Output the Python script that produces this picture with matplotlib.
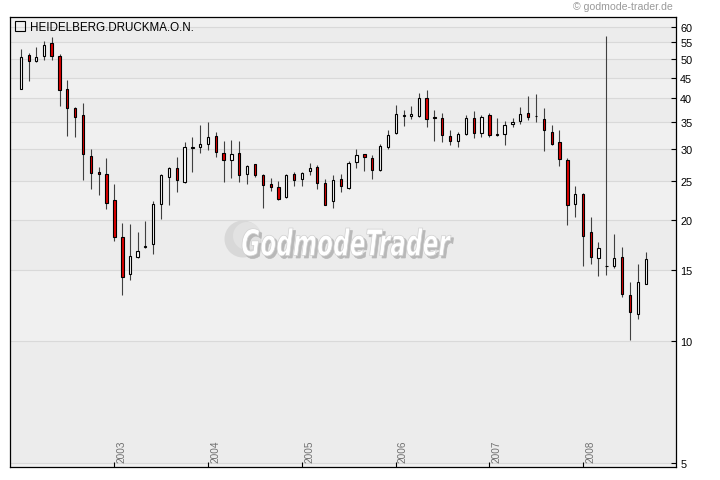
import datetime as dt
import matplotlib
matplotlib.use("Agg")
import matplotlib.pyplot as plt
import matplotlib.dates as mdates
from matplotlib.patches import Rectangle, PathPatch, Circle
from matplotlib.textpath import TextPath
from matplotlib.font_manager import FontProperties
from matplotlib.transforms import Affine2D, IdentityTransform, blended_transform_factory
from matplotlib.ticker import NullLocator, FixedLocator, FixedFormatter

plt.rcParams['font.family'] = ['Liberation Sans', 'DejaVu Sans']

# ---------------- data (monthly OHLC) ----------------
months = ["2002-01", "2002-02", "2002-03", "2002-04", "2002-05", "2002-06", "2002-07", "2002-08",
          "2002-09", "2002-10", "2002-11", "2002-12", "2003-01", "2003-02", "2003-03", "2003-04",
          "2003-05", "2003-06", "2003-07", "2003-08", "2003-09", "2003-10", "2003-11", "2003-12",
          "2004-01", "2004-02", "2004-03", "2004-04", "2004-05", "2004-06", "2004-07", "2004-08",
          "2004-09", "2004-10", "2004-11", "2004-12", "2005-01", "2005-02", "2005-03", "2005-04",
          "2005-05", "2005-06", "2005-07", "2005-08", "2005-09", "2005-10", "2005-11", "2005-12",
          "2006-01", "2006-02", "2006-03", "2006-04", "2006-05", "2006-06", "2006-07", "2006-08",
          "2006-09", "2006-10", "2006-11", "2006-12", "2007-01", "2007-02", "2007-03", "2007-04",
          "2007-05", "2007-06", "2007-07", "2007-08", "2007-09", "2007-10", "2007-11", "2007-12",
          "2008-01", "2008-02", "2008-03", "2008-04", "2008-05", "2008-06", "2008-07", "2008-08",
          "2008-09"]
opens = [42.2, 51.1, 49.5, 51.0, 54.7, 51.0, 42.2, 37.8, 36.4, 28.7, 26.2, 26.0,
         22.4, 18.1, 14.7, 16.2, 17.15, 17.4, 21.9, 25.5, 26.8, 24.8, 30.1, 30.3,
         30.8, 32.3, 29.3, 28.2, 29.3, 26.0, 27.5, 25.8, 24.6, 24.1, 22.8, 26.0,
         25.3, 26.4, 27.1, 24.7, 22.3, 25.3, 24.0, 27.8, 29.1, 28.5, 26.6, 30.3,
         32.9, 36.1, 36.2, 36.2, 40.1, 35.9, 35.8, 32.3, 31.4, 32.7, 35.8, 32.9,
         36.4, 32.6, 32.7, 34.6, 35.2, 36.8, 36.2, 35.6, 33.0, 31.1, 28.2, 21.9,
         23.2, 18.7, 16.1, 15.4, 15.4, 16.2, 13.0, 11.7, 13.9]
highs = [53.0, 51.7, 53.6, 55.4, 56.6, 51.4, 44.3, 38.0, 39.0, 30.0, 27.1, 28.4,
         24.5, 19.6, 19.5, 18.7, 19.9, 22.2, 26.0, 27.0, 28.6, 31.1, 32.0, 34.3,
         34.9, 33.0, 31.4, 31.6, 31.3, 27.4, 27.5, 25.9, 25.4, 25.0, 26.0, 26.3,
         26.3, 27.7, 27.4, 25.3, 25.8, 26.0, 28.0, 30.0, 29.1, 29.0, 30.9, 33.4,
         38.6, 37.5, 38.2, 41.3, 42.0, 37.5, 36.8, 33.4, 33.0, 36.4, 37.1, 36.4,
         36.8, 35.8, 35.2, 35.8, 38.1, 40.6, 41.1, 37.8, 34.3, 33.3, 28.5, 24.3,
         23.3, 20.3, 17.6, 57.2, 18.4, 17.1, 14.0, 15.5, 16.6]
lows = [42.2, 44.1, 49.2, 49.7, 49.7, 38.2, 32.2, 32.0, 25.1, 23.8, 23.1, 21.3,
        17.7, 13.0, 14.2, 16.1, 17.0, 16.5, 20.1, 21.7, 23.5, 24.7, 26.2, 29.2,
        29.7, 28.6, 24.8, 25.4, 24.8, 24.6, 25.6, 21.4, 23.6, 22.4, 22.7, 24.3,
        24.3, 25.8, 23.9, 21.7, 21.4, 23.5, 23.9, 26.8, 26.4, 25.3, 26.4, 30.0,
        32.7, 34.2, 35.6, 36.0, 34.0, 31.4, 31.2, 30.7, 30.3, 32.5, 31.9, 32.1,
        32.1, 32.3, 30.7, 34.0, 34.6, 35.4, 35.0, 29.6, 30.6, 27.2, 19.4, 20.3,
        15.4, 15.5, 14.5, 14.6, 15.2, 12.9, 10.05, 11.35, 13.9]
closes = [50.7, 49.5, 50.7, 54.3, 51.0, 41.9, 37.8, 36.0, 29.1, 26.1, 26.0, 22.0,
          18.1, 14.4, 16.3, 16.7, 17.25, 21.9, 25.8, 26.8, 25.1, 30.3, 30.3, 30.9,
          32.1, 29.4, 28.2, 29.1, 25.8, 27.2, 25.8, 24.4, 24.1, 22.5, 25.8, 25.1,
          26.1, 26.9, 24.7, 21.8, 25.1, 24.3, 27.7, 29.0, 28.6, 26.6, 30.5, 32.5,
          36.6, 36.3, 36.6, 40.1, 35.6, 35.7, 32.5, 31.4, 32.7, 35.8, 32.9, 36.0,
          32.5, 32.4, 34.4, 35.0, 36.6, 36.0, 36.1, 33.4, 30.8, 28.3, 21.7, 23.2,
          18.2, 16.2, 17.0, 15.35, 16.1, 13.1, 11.8, 14.0, 16.0]

yticks = [5, 10, 15, 20, 25, 30, 35, 40, 45, 50, 55, 60]
year_labels = ["2003", "2004", "2005", "2006", "2007", "2008"]
title = "HEIDELBERG.DRUCKMA.O.N."
copyright_txt = "\u00a9 godmode-trader.de"

# ---------------- figure ----------------
W, H = 720, 481
fig = plt.figure(figsize=(W / 100, H / 100), dpi=100)
fig.patch.set_facecolor("white")
ax_l, ax_r, ax_t, ax_b = 10, 676, 18, 467.7
ax = fig.add_axes([ax_l / W, 1 - ax_b / H, (ax_r - ax_l) / W, (ax_b - ax_t) / H])
ax.set_yscale("log")
ylo, yhi = 4.89, 63.6
ax.set_ylim(ylo, yhi)
ax.set_xlim(mdates.date2num(dt.datetime(2001, 11, 20)), mdates.date2num(dt.datetime(2008, 12, 28)))
ax.set_facecolor("#eeeeee")

# alternating bands + grid
edges = [ylo] + yticks + [yhi]
for i in range(len(edges) - 1):
    col = "#ececec" if i % 2 == 1 else "#f0f0f0"
    ax.axhspan(edges[i], edges[i + 1], color=col, lw=0, zorder=0)
for v in yticks:
    ax.axhline(v, color="#d9d9d9", lw=0.8, zorder=0.5)

# candles
xs = mdates.date2num([dt.datetime.strptime(m, "%Y-%m") for m in months])
bw = 8.5
for xi, o, h, l, c in zip(xs, opens, highs, lows, closes):
    ax.vlines(xi, l, h, color="#404040", lw=0.8, zorder=2)
    lo, hi = min(o, c), max(o, c)
    fc = "#dd0000" if c < o else "white"
    ax.add_patch(Rectangle((xi - bw / 2, lo), bw, hi - lo, facecolor=fc,
                           edgecolor="black", lw=0.8, zorder=3))

# axes styling
for s in ax.spines.values():
    s.set_color("black")
    s.set_linewidth(0.9)
ax.yaxis.tick_right()
ax.yaxis.set_major_locator(FixedLocator(yticks))
ax.yaxis.set_major_formatter(FixedFormatter([str(v) for v in yticks]))
ax.yaxis.set_minor_locator(NullLocator())
ax.tick_params(axis="y", direction="in", length=3.5, width=0.8, pad=3,
               labelsize=7.8, colors="black", right=True, left=False)
year_x = [mdates.date2num(dt.datetime(int(y), 1, 1)) for y in year_labels]
ax.xaxis.set_major_locator(FixedLocator(year_x))
ax.xaxis.set_minor_locator(NullLocator())
ax.tick_params(axis="x", direction="in", length=3.5, width=0.8, labelbottom=False)
btr = blended_transform_factory(ax.transData, ax.transAxes)
for xv, lab in zip(year_x, year_labels):
    ax.text(xv + 27, 0.010, lab, rotation=90, ha="center", va="bottom",
            fontsize=7.2, color="#707070", transform=btr, zorder=1)

# title
fig.add_artist(Rectangle((15 / W, 1 - 31.7 / H), 9.5 / W, 9.4 / H, transform=fig.transFigure,
                         fill=False, edgecolor="black", lw=0.8))
fig.text(30 / W, 1 - 31.2 / H, title, fontsize=8.4, va="baseline", ha="left", color="black")
fig.text(673 / W, 1 - 7.5 / H, copyright_txt, fontsize=7.6, va="center", ha="right", color="#9a9a9a")

# watermark
ax.add_patch(Circle((243, H - 240), 18.5, transform=IdentityTransform(),
                    facecolor="#d8d8d8", edgecolor="none", zorder=1))
ax.add_patch(Circle((247, H - 237), 14, transform=IdentityTransform(),
                    facecolor="#e2e2e2", edgecolor="none", zorder=1.01))
fp = FontProperties(family="DejaVu Sans", weight="bold", style="oblique")
tp = TextPath((0, 0), "GodmodeTrader", size=100, prop=fp)
ext = tp.get_extents()
x0, x1, yt, yb = 242, 451, 229, 257
sx = (x1 - x0) / ext.width
sy = (yb - yt) / ext.height
for dx, dy, fcol, ecol, z in [(2.5, -2.5, "#b8b8b8", "#b8b8b8", 1.1), (0, 0, "white", "#d0d0d0", 1.2)]:
    tr = Affine2D().translate(-ext.x0, -ext.y0).scale(sx, sy).translate(x0 + dx, H - yb + dy)
    ax.add_patch(PathPatch(tp, transform=tr, facecolor=fcol, edgecolor=ecol, lw=0.5, zorder=z))

fig.savefig("out.png", dpi=100)
